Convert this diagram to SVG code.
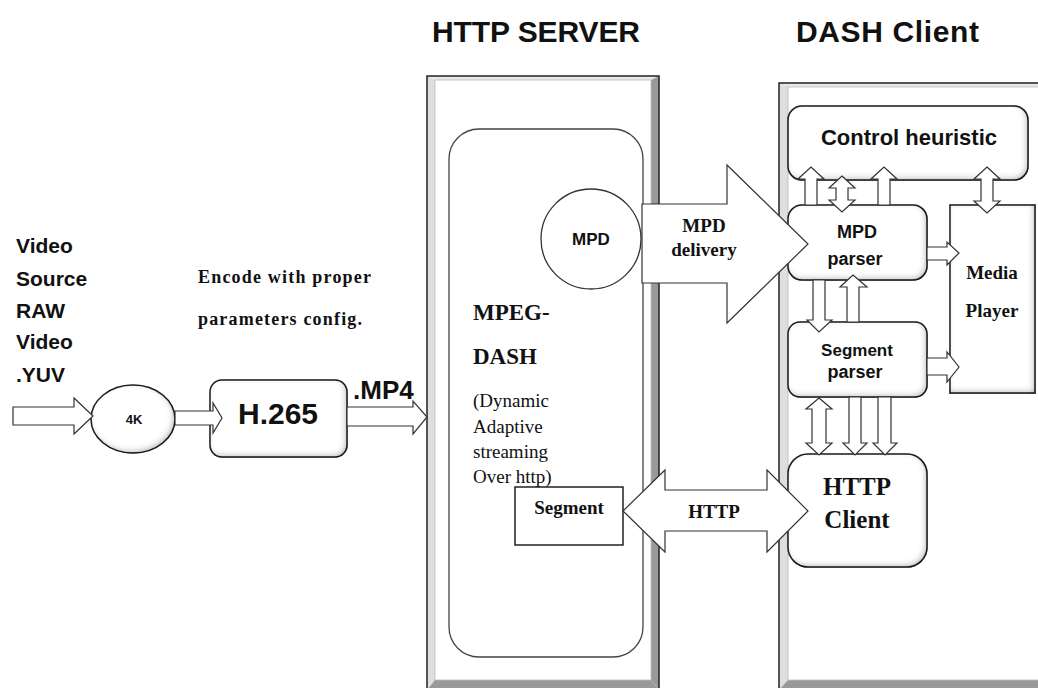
<svg xmlns="http://www.w3.org/2000/svg" width="1038" height="688" viewBox="0 0 1038 688">
<defs>
<filter id="inner" x="-10%" y="-10%" width="120%" height="120%">
<feFlood flood-color="#000" flood-opacity="0.6" result="f"/>
<feComposite in="f" in2="SourceAlpha" operator="out" result="o"/>
<feGaussianBlur in="o" stdDeviation="3" result="b"/>
<feOffset in="b" dx="-2" dy="-2" result="off"/>
<feComposite in="off" in2="SourceAlpha" operator="in" result="sh"/>
<feMerge><feMergeNode in="SourceGraphic"/><feMergeNode in="sh"/></feMerge>
</filter>
</defs>
<style>
.sans{font-family:"Liberation Sans",Arial,sans-serif;font-weight:bold;fill:#111}
.serifb{font-family:"Liberation Serif","Times New Roman",serif;font-weight:bold;fill:#111}
.serif{font-family:"Liberation Serif","Times New Roman",serif;fill:#111}
.box{fill:#fff;stroke:#222;stroke-width:1.5}
.sbox{fill:#fff;stroke:#222;stroke-width:1.5;filter:url(#inner)}
.arr{fill:#fff;stroke:#333;stroke-width:1.2;stroke-linejoin:miter}
.light{fill:#dedede}
.top{fill:#e8e8e8}
.dark{fill:#999}
</style>
<rect width="1038" height="688" fill="#fff"/>

<g id="titles">
<text class="sans" x="432" y="42" font-size="30" textLength="208">HTTP SERVER</text>
<text class="sans" x="796" y="42" font-size="30" textLength="183">DASH Client</text>
</g>

<g id="source-label">
<text class="sans" font-size="21" x="16" y="253">Video</text>
<text class="sans" font-size="21" x="16" y="286">Source</text>
<text class="sans" font-size="21" x="16" y="318">RAW</text>
<text class="sans" font-size="21" x="16" y="349">Video</text>
<text class="sans" font-size="21" x="16" y="382">.YUV</text>
</g>

<g id="encode-label">
<text class="serifb" font-size="18" x="198" y="283" textLength="173">Encode with proper</text>
<text class="serifb" font-size="18" x="198" y="325" textLength="164">parameters config.</text>
</g>

<g id="http-server">
<polygon class="top" points="427,76 659,76 651,80 435,80"/>
<polygon class="light" points="427,76 435,80 435,680 427,690"/>
<polygon class="dark" points="659,76 659,690 651,680 651,80"/>
<polygon class="dark" points="427,690 659,690 651,680 435,680"/>
<rect x="435" y="80" width="216" height="600" fill="#fff" stroke="#bbb" stroke-width="0.8"/>
<rect x="427" y="76" width="232" height="614" fill="none" stroke="#222" stroke-width="1.5"/>
</g>

<g id="dash-client">
<polygon class="top" points="779,83 1045,83 1045,87 788,87"/>
<polygon class="light" points="779,83 788,87 788,680 779,690"/>
<polygon class="dark" points="779,690 1045,690 1045,680 788,680"/>
<rect x="788" y="87" width="260" height="593" fill="#fff" stroke="#bbb" stroke-width="0.8"/>
<rect x="779" y="83" width="270" height="607" fill="none" stroke="#222" stroke-width="1.5"/>
</g>

<g id="mpeg-dash">
<rect x="449" y="129" width="194" height="528" rx="30" fill="#fff" stroke="#444" stroke-width="1.3"/>
<text class="serifb" font-size="23" x="473" y="320">MPEG-</text>
<text class="serifb" font-size="23" x="473" y="364">DASH</text>
<text class="serif" font-size="19" x="473" y="407">(Dynamic</text>
<text class="serif" font-size="19" x="473" y="433">Adaptive</text>
<text class="serif" font-size="19" x="473" y="458">streaming</text>
</g>

<g id="mpd">
<circle cx="591" cy="239" r="50" fill="#fff" stroke="#333" stroke-width="1.3"/>
<text class="sans" font-size="17" x="591" y="245" text-anchor="middle">MPD</text>
</g>

<g id="segment">
<rect class="box" x="515" y="487" width="108" height="58"/>
<text class="serifb" font-size="19" x="569" y="514" text-anchor="middle">Segment</text>
</g>
<text class="serif" font-size="19" x="473" y="483">Over http)</text>

<g id="node-4k">
<ellipse class="sbox" cx="133" cy="419" rx="42" ry="34"/>
<text class="sans" font-size="13" x="134" y="424" text-anchor="middle">4K</text>
</g>

<g id="h265">
<rect class="sbox" x="210" y="380" width="137" height="77" rx="12"/>
<text class="sans" font-size="30" x="278" y="424" text-anchor="middle">H.265</text>
</g>
<text class="sans" font-size="26" x="353" y="399">.MP4</text>

<g id="control-heuristic">
<rect class="sbox" x="788" y="106" width="240" height="74" rx="14"/>
<text class="sans" font-size="22" x="909" y="145" text-anchor="middle">Control heuristic</text>
</g>

<g id="mpd-parser">
<rect class="sbox" x="788" y="205" width="139" height="75" rx="14"/>
<text class="sans" font-size="18" x="857" y="238" text-anchor="middle">MPD</text>
<text class="sans" font-size="18" x="855" y="265" text-anchor="middle">parser</text>
</g>

<g id="segment-parser">
<rect class="sbox" x="788" y="322" width="139" height="75" rx="12"/>
<text class="sans" font-size="17" x="857" y="356" text-anchor="middle">Segment</text>
<text class="sans" font-size="18" x="855" y="378" text-anchor="middle">parser</text>
</g>

<g id="media-player">
<rect class="sbox" x="950" y="205" width="85" height="188"/>
<text class="serifb" font-size="19" x="992" y="279" text-anchor="middle">Media</text>
<text class="serifb" font-size="19" x="992" y="317" text-anchor="middle">Player</text>
</g>

<g id="http-client">
<rect class="sbox" x="788" y="454" width="139" height="113" rx="20"/>
<text class="serifb" font-size="25" x="857" y="495" text-anchor="middle">HTTP</text>
<text class="serifb" font-size="25" x="857" y="528" text-anchor="middle">Client</text>
</g>

<g id="connectors">
<path class="arr" d="M13,407 H74 V398 L93,416 L74,434 V425 H13 Z"/>
<path class="arr" d="M175,411 H213 V403 L222,418 L213,433 V425 H175 Z"/>
<path class="arr" d="M347,407 H413 V401 L427,417 L413,434 V426 H347 Z"/>
<path class="arr" d="M642,204 H727 V165 L808,244 L727,323 V283 H642 Z"/>
<path class="arr" d="M623,511 L665,470 V490 H767 V470 L808,511 L767,552 V531 H665 V552 Z"/>
<path class="arr" d="M805,205 V179 H798 L811,167 L824,179 H817 V205 Z"/>
<path class="arr" d="M842,176 L855,188 H848 V200 H855 L842,212 L829,200 H836 V188 H829 Z"/>
<path class="arr" d="M878,205 V179 H871 L884,167 L897,179 H890 V205 Z"/>
<path class="arr" d="M987,167 L1000,179 H993 V201 H1000 L987,213 L974,201 H981 V179 H974 Z"/>
<path class="arr" d="M927,247 H947 V242 L959,253 L947,265 V260 H927 Z"/>
<path class="arr" d="M927,358 H947 V352 L959,367 L947,382 V375 H927 Z"/>
<path class="arr" d="M813,280 V320 H807 L819,332 L832,320 H825 V280 Z"/>
<path class="arr" d="M847,322 V287 H840 L853,275 L867,287 H859 V322 Z"/>
<path class="arr" d="M819,398 L832,409 H826 V443 H832 L819,455 L806,443 H812 V409 H806 Z"/>
<path class="arr" d="M849,397 V443 H843 L855,455 L867,443 H861 V397 Z"/>
<path class="arr" d="M878,397 V443 H873 L885,455 L897,443 H891 V397 Z"/>
<text class="serifb" font-size="19" x="704" y="232" text-anchor="middle">MPD</text>
<text class="serifb" font-size="19" x="704" y="256" text-anchor="middle">delivery</text>
<text class="serifb" font-size="19" x="714" y="518" text-anchor="middle">HTTP</text>
</g>
</svg>
